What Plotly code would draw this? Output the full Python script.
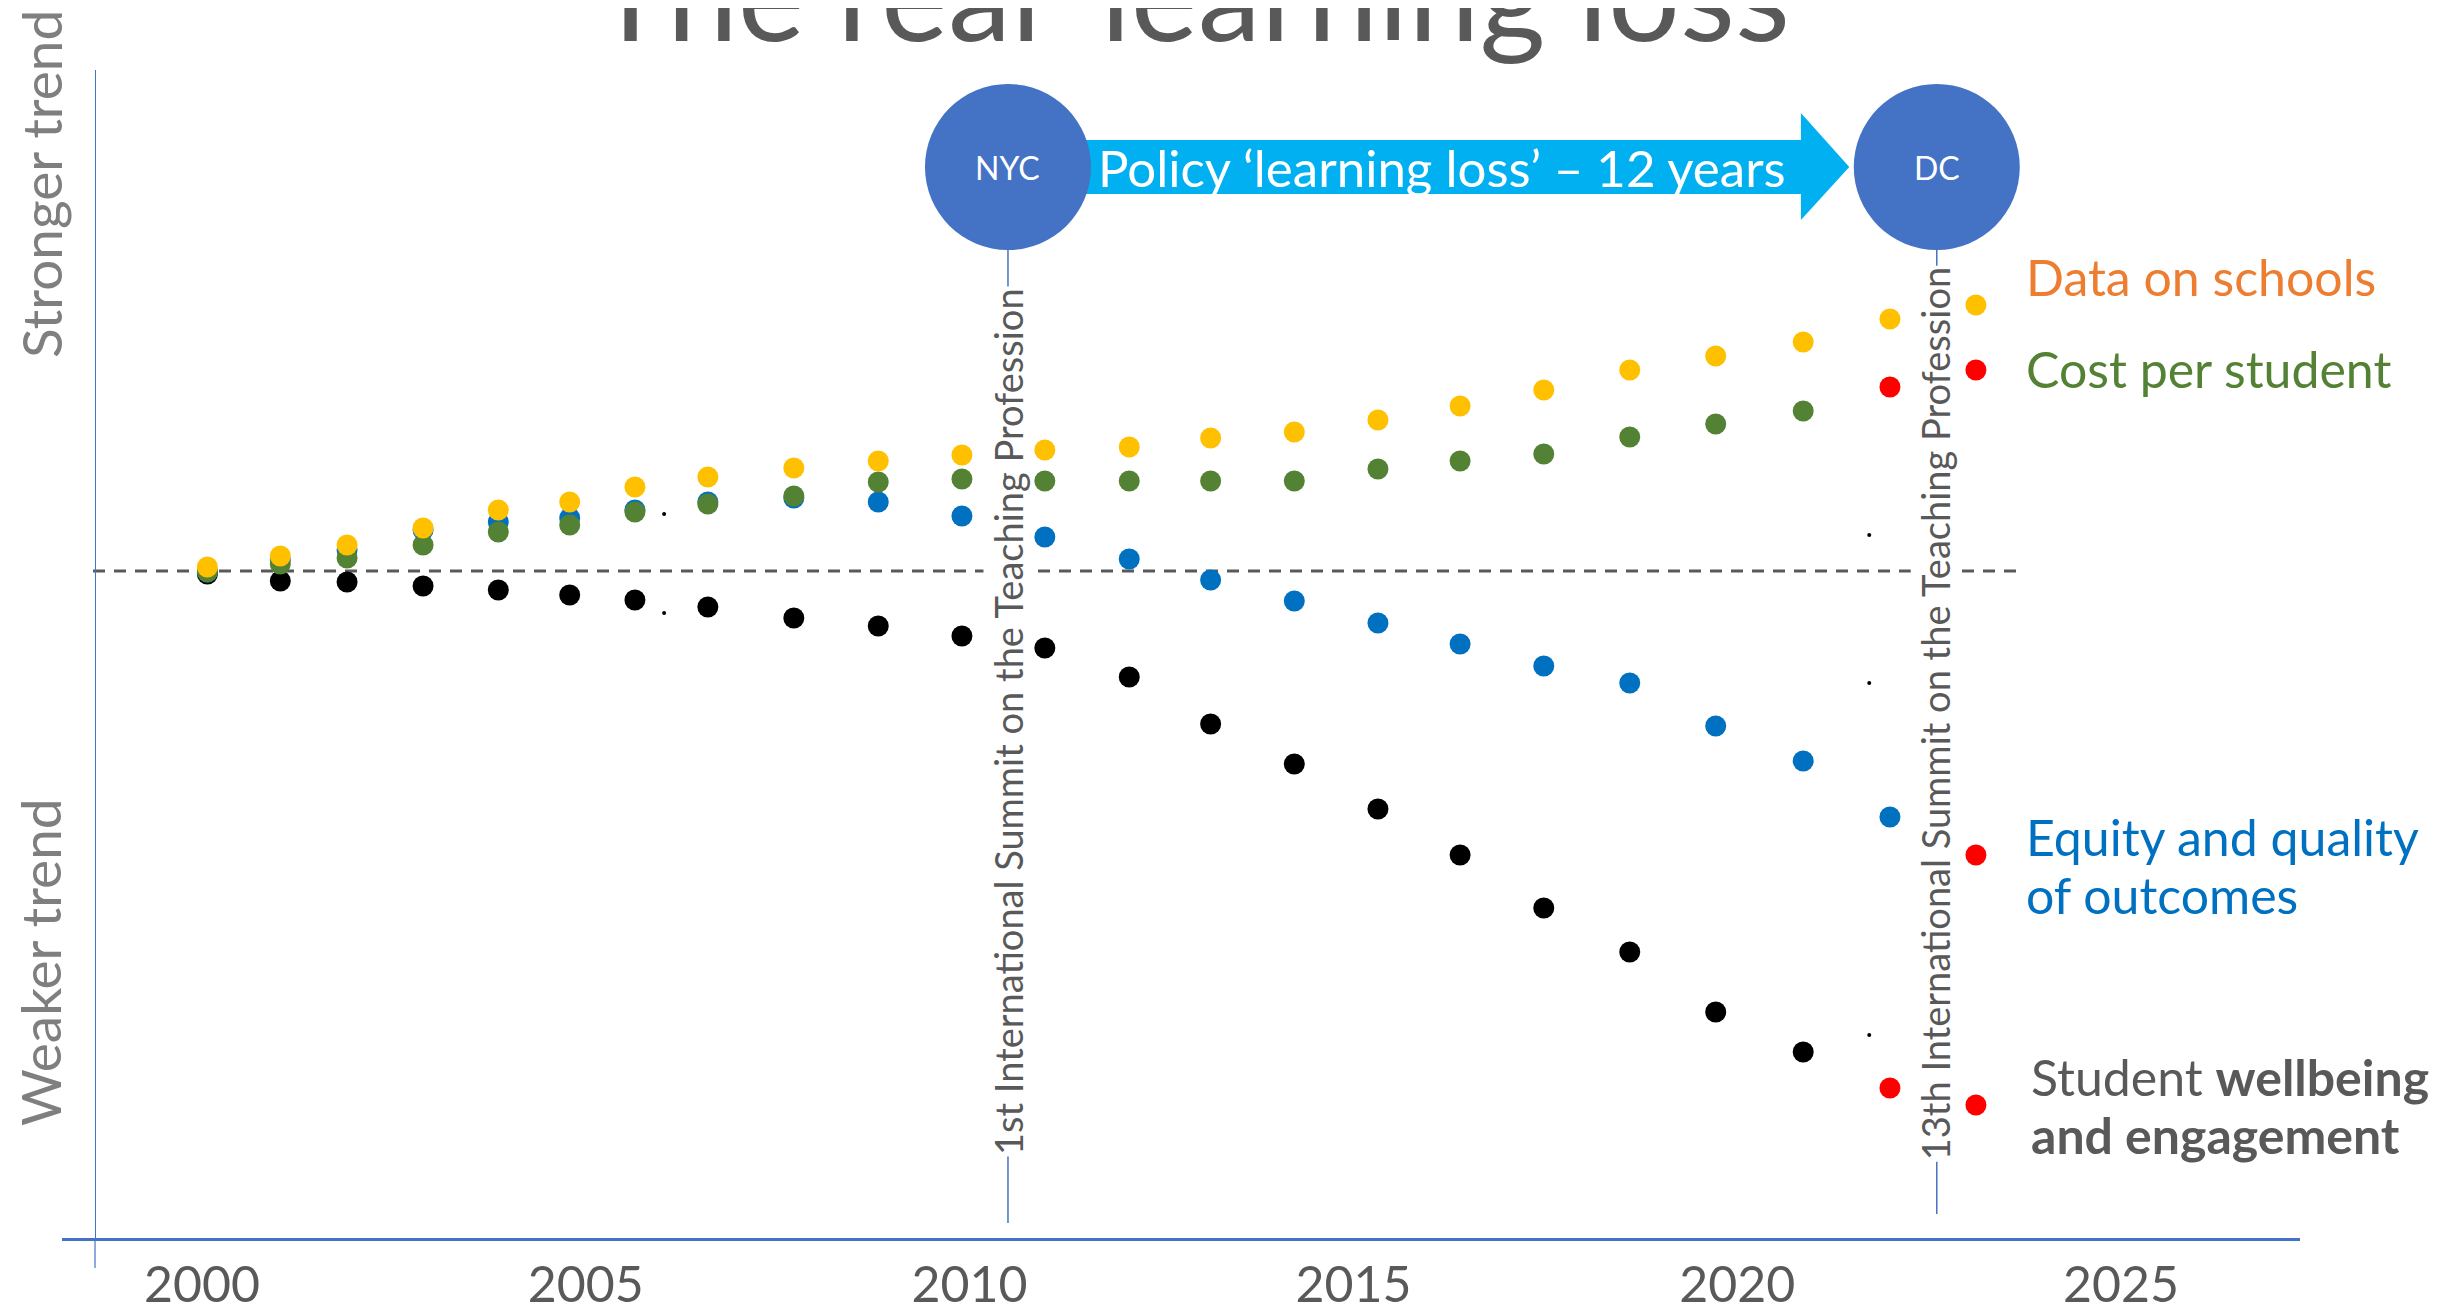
import plotly.graph_objects as go

# x positions (years, as placed in the picture) and trend scores per series
years = [2000.07, 2001.02, 2001.89, 2002.88, 2003.86, 2004.79, 2005.64, 2006.59,
         2007.71, 2008.81, 2009.90, 2010.98, 2012.08, 2013.14, 2014.23, 2015.32,
         2016.39, 2017.48, 2018.60, 2019.72, 2020.86, 2021.99, 2023.11]

data_on_schools = [0.4, 1.5, 2.6, 4.3, 6.1, 6.9, 8.4, 9.4, 10.3, 11.0, 11.6, 12.1,
                   12.4, 13.3, 13.9, 15.1, 16.5, 18.1, 20.1, 21.5, 22.9, 25.2, 26.6]
cost_per_student = [-0.1, 0.7, 1.3, 2.6, 3.9, 4.6, 5.9, 6.7, 7.5, 8.9, 9.2, 9.0,
                    9.0, 9.0, 9.0, 10.2, 11.0, 11.7, 13.4, 14.7, 16.0]
equity_quality = [-0.1, 1.1, 2.1, 4.1, 4.9, 5.3, 6.1, 6.9, 7.3, 6.9, 5.5, 3.4,
                  1.2, -0.9, -3.0, -5.2, -7.3, -9.5, -11.2, -15.5, -19.0, -24.6]
wellbeing = [-0.3, -1.0, -1.1, -1.5, -1.9, -2.4, -2.9, -3.6, -4.7, -5.5, -6.5, -7.7,
             -10.6, -15.3, -19.3, -23.8, -28.4, -33.7, -38.1, -44.1, -48.1]

red_x = [2021.99, 2023.11, 2023.11, 2021.99, 2023.11]
red_y = [18.4, 20.1, -28.4, -51.7, -53.4]

speck_x = [2006.02, 2006.02, 2021.72, 2021.72, 2021.72]
speck_y = [5.7, -4.2, 3.6, -11.2, -46.4]

tick_years = [2000, 2005, 2010, 2015, 2020, 2025]

summit_years = [2010.5, 2022.6]

GREY = "#595959"
BLUE_SHAPE = "#4472C4"
FONT = "Lato"

fig = go.Figure()

series = [
    ("Data on schools", years, data_on_schools, "#FFC000"),
    ("Cost per student", years[:len(cost_per_student)], cost_per_student, "#548235"),
    ("Equity and quality of outcomes", years[:len(equity_quality)], equity_quality, "#0070C0"),
    ("Student wellbeing and engagement", years[:len(wellbeing)], wellbeing, "#000000"),
]
# draw order: black, blue, green, yellow (yellow on top)
for name, xs, ys, col in reversed(series):
    fig.add_trace(go.Scatter(x=xs, y=ys, mode="markers", name=name,
                             marker=dict(size=21, color=col, line=dict(width=0))))
fig.add_trace(go.Scatter(x=red_x, y=red_y, mode="markers", name="2022-23",
                         marker=dict(size=21, color="#FF0000", line=dict(width=0))))
fig.add_trace(go.Scatter(x=speck_x, y=speck_y, mode="markers", name="",
                         marker=dict(size=4, color="#000000", line=dict(width=0))))

# baseline
fig.add_shape(type="line", xref="x", yref="y", x0=1998.58, x1=2023.70, y0=0, y1=0,
              line=dict(color=GREY, width=3, dash="12px,9px"), layer="below")

# summit vertical lines
for sx, yend in zip(summit_years, [-65.2, -64.3]):
    fig.add_shape(type="line", xref="x", yref="y", x0=sx, x1=sx, y0=32.1, y1=yend,
                  line=dict(color=BLUE_SHAPE, width=1.5), layer="below")

# arrow
fig.add_shape(type="path", xref="x", yref="y",
              path="M 2011.49,43.1 L 2020.83,43.1 L 2020.83,45.8 L 2021.46,40.4 "
                   "L 2020.83,35.1 L 2020.83,37.7 L 2011.49,37.7 Z",
              fillcolor="#00B0F0", line=dict(width=0))

# NYC / DC circles
for sx in summit_years:
    fig.add_shape(type="circle", xref="x", yref="y", xsizemode="pixel", ysizemode="pixel",
                  xanchor=sx, yanchor=40.4, x0=-83, x1=83, y0=-83, y1=83,
                  fillcolor=BLUE_SHAPE, line=dict(width=0))

# y axis extension below x axis
fig.add_shape(type="line", xref="paper", yref="paper", x0=0.01475, x1=0.01475,
              y0=0, y1=-0.0257, line=dict(color=BLUE_SHAPE, width=1.2))

ann = []
ann.append(dict(text="NYC", x=summit_years[0], y=40.4, font=dict(size=32, color="white")))
ann.append(dict(text="DC", x=summit_years[1], y=40.4, font=dict(size=32, color="white")))
ann.append(dict(text="Policy ‘learning loss’ – 12 years", x=2016.15, y=40.4,
                font=dict(size=51, color="white")))
ann.append(dict(text="1st International Summit on the Teaching Profession",
                x=2010.5, y=-15.0, textangle=-90, bgcolor="white",
                font=dict(size=38, color=GREY)))
ann.append(dict(text="13th International Summit on the Teaching Profession",
                x=2022.58, y=-14.3, textangle=-90, bgcolor="white",
                font=dict(size=38, color=GREY)))
ann.append(dict(text="Data on schools", x=2023.74, y=29.4, xanchor="left",
                font=dict(size=50, color="#ED7D31")))
ann.append(dict(text="Cost per student", x=2023.74, y=20.2, xanchor="left",
                font=dict(size=50, color="#548235")))
ann.append(dict(text="Equity and quality", x=2023.74, y=-26.6, xanchor="left",
                font=dict(size=50, color="#0070C0")))
ann.append(dict(text="of outcomes", x=2023.74, y=-32.4, xanchor="left",
                font=dict(size=50, color="#0070C0")))
ann.append(dict(text="Student <b>wellbeing</b>", x=2023.80, y=-50.6, xanchor="left",
                font=dict(size=50, color=GREY)))
ann.append(dict(text="<b>and engagement</b>", x=2023.80, y=-56.4, xanchor="left",
                font=dict(size=50, color=GREY)))
for a in ann:
    a.update(xref="x", yref="y", showarrow=False)
    a.setdefault("xanchor", "center")
    a.setdefault("yanchor", "middle")

ann.append(dict(text="The real ‘learning loss’", xref="paper", yref="paper",
                x=0.5107, y=1.067, xanchor="center", yanchor="middle", showarrow=False,
                font=dict(size=127, color=GREY)))
ann.append(dict(text="Stronger trend", xref="paper", yref="paper", x=-0.0094, y=0.9023,
                xanchor="center", yanchor="middle",
                textangle=-90, showarrow=False, font=dict(size=55, color="#7F7F7F")))
ann.append(dict(text="Weaker trend", xref="paper", yref="paper", x=-0.0098, y=0.2363,
                xanchor="center", yanchor="middle",
                textangle=-90, showarrow=False, font=dict(size=55, color="#7F7F7F")))

# the page body adds an 8px offset, so margins are trimmed by 8px on left/top
fig.update_layout(
    width=2441, height=1309,
    margin=dict(l=54, r=149, t=62, b=79, autoexpand=False),
    paper_bgcolor="white", plot_bgcolor="white",
    showlegend=False,
    font=dict(family=FONT, color=GREY),
    annotations=ann,
    xaxis=dict(range=[1998.176, 2027.332], tickvals=tick_years, showgrid=False,
               zeroline=False, showline=True, linecolor=BLUE_SHAPE, linewidth=2.5,
               automargin=False,
               ticks="", ticklabelstandoff=1, tickfont=dict(size=50, color=GREY)),
    yaxis=dict(range=[-66.7, 50.1], showgrid=False, zeroline=False, showticklabels=False,
               showline=True, linecolor=BLUE_SHAPE, linewidth=1.2, automargin=False,
               anchor="free", position=0.01475, ticks=""),
)

fig.write_html("out.html")
